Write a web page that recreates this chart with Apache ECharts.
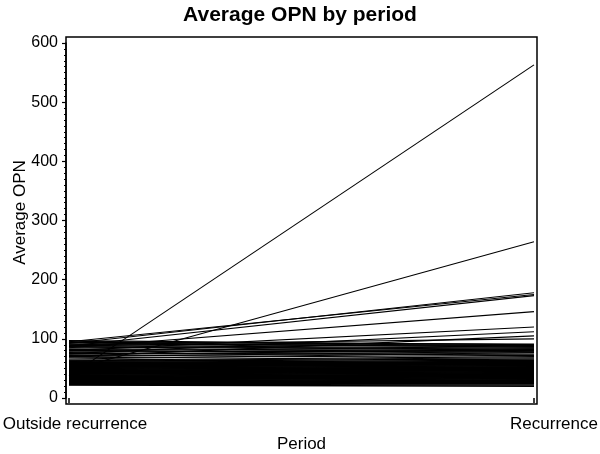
<!DOCTYPE html>
<html>
<head>
<meta charset="utf-8">
<title>Average OPN by period</title>
<script src="https://cdn.jsdelivr.net/npm/echarts@6/dist/echarts.min.js"></script>
<style>
  html, body { margin: 0; padding: 0; background: #fff; }
  #chart { width: 600px; height: 454px; }
</style>
</head>
<body>
<div id="chart"></div>
<script>
// periods on the x axis
const periods = ['Outside recurrence', 'Recurrence']

// y axis ticks
const yTicks = [0, 100, 200, 300, 400, 500, 600]

// average OPN per patient, one entry per line (outside recurrence -> recurrence)
const outsideValues = [
  // lines that rise clearly
  37, 47, 92, 95, 88, 85, 80, 75, 70, 90,
  // upper stripes
  97, 96, 94, 93, 91, 89, 87, 86, 84, 82, 80, 79, 77, 75, 74, 72, 70, 68, 66, 64, 63,
  // dense band
  62, 61, 60, 59, 58, 57, 56, 55, 54, 53, 52, 51, 50, 49, 48, 47, 46, 45, 44, 43, 42,
  41, 40, 39, 38, 37, 36, 35, 34, 33, 32, 31, 30, 29, 28, 27, 26, 25, 24, 23, 22
]
const recurrenceValues = [
  563, 264, 178, 175, 173, 146, 120, 112, 105, 100,
  90, 88, 91, 86, 89, 84, 90, 82, 87, 80, 85, 78, 83, 76, 81, 74, 79, 72, 77, 70, 68,
  66, 60, 64, 58, 62, 56, 61, 54, 59, 52, 57, 50, 55, 48, 53, 46, 51, 44, 49, 42, 47,
  40, 45, 38, 43, 36, 41, 34, 39, 32, 37, 30, 35, 28, 33, 26, 31, 24, 29, 22, 20
]

const chart = echarts.init(document.getElementById('chart'))

// the first 31 lines are drawn thin so the gaps between them stay visible
const series = outsideValues.map((v, i) => ({
  type: 'line',
  xAxisIndex: 1,
  yAxisIndex: 1,
  data: [v, recurrenceValues[i]],
  symbol: 'none',
  silent: true,
  lineStyle: { color: '#000', width: i < 31 ? 1.1 : 1.5 }
}))

const option = {
  animation: false,
  backgroundColor: '#fff',
  textStyle: { fontFamily: 'Liberation Sans, Arial, sans-serif', color: '#000' },
  title: {
    text: 'Average OPN by period',
    left: 'center',
    top: 0,
    textStyle: { fontSize: 21, fontWeight: 'bold', color: '#000', fontFamily: 'Liberation Sans, Arial, sans-serif' }
  },
  grid: [
    // frame around the plot
    { left: 66, top: 37, width: 471, height: 367, show: true, borderColor: '#000', borderWidth: 1.5, backgroundColor: 'transparent', outerBoundsMode: 'none' },
    // data area
    { left: 69, right: 66, top: 43, bottom: 56, outerBoundsMode: 'none' }
  ],
  xAxis: [
    { gridIndex: 0, type: 'value', show: false, min: 0, max: 1 },
    {
      gridIndex: 1,
      type: 'category',
      data: periods,
      boundaryGap: false,
      offset: 6,
      axisLine: { show: false },
      axisTick: { show: true, length: 5, lineStyle: { color: '#000', width: 1.5 } },
      axisLabel: {
        margin: 12,
        color: '#000',
        fontSize: 17,
        formatter: (v) => (v === 'Recurrence' ? '{r|' + v + '}' : '{o|' + v + '}'),
        rich: {
          o: { fontSize: 17, color: '#000', padding: [0, 0, 0, 12] },
          r: { fontSize: 17, color: '#000', padding: [0, 0, 0, 40] }
        }
      },
      name: 'Period',
      nameLocation: 'middle',
      nameGap: 32,
      nameMoveOverlap: false,
      nameTextStyle: { fontSize: 17, color: '#000' }
    }
  ],
  yAxis: [
    { gridIndex: 0, type: 'value', show: false, min: 0, max: 1 },
    {
      gridIndex: 1,
      type: 'value',
      min: yTicks[0],
      max: yTicks[yTicks.length - 1],
      interval: 100,
      offset: 3,
      axisLine: { show: true, lineStyle: { color: '#000', width: 1.5 } },
      axisTick: { show: true, length: 4, lineStyle: { color: '#000', width: 1.2 } },
      minorTick: { show: true, splitNumber: 10, length: 2, lineStyle: { color: '#000', width: 1 } },
      splitLine: { show: false },
      axisLabel: { margin: 8, color: '#000', fontSize: 16 },
      name: 'Average OPN',
      nameLocation: 'middle',
      nameGap: 37,
      nameMoveOverlap: false,
      nameRotate: 90,
      nameTextStyle: { fontSize: 17, color: '#000', padding: [0, 0, 0, 16] }
    }
  ],
  series: series
}

chart.setOption(option)
</script>
</body>
</html>
